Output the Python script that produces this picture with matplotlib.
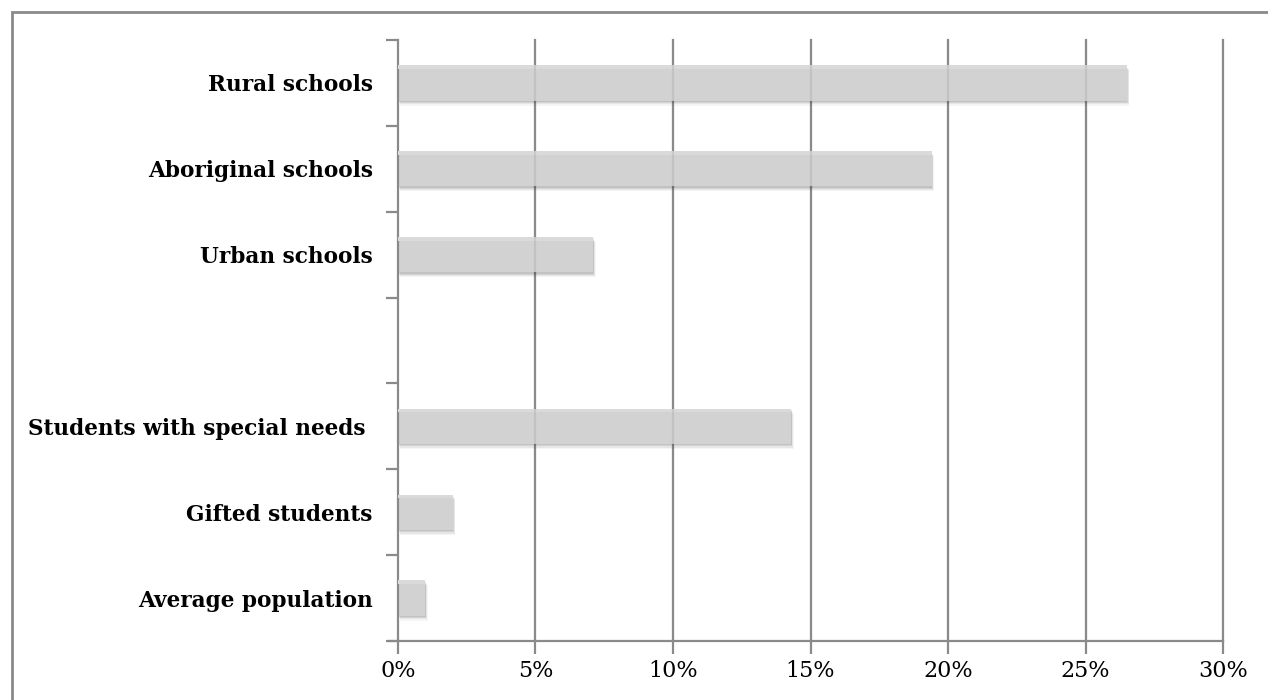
import matplotlib.pyplot as plt
import matplotlib.patheffects as pe
from matplotlib.patches import Rectangle
from matplotlib.ticker import FuncFormatter

# Share of students, bottom to top (empty row separates the two groups)
kategorien = [
    "Average population",
    "Gifted students",
    "Students with special needs ",
    "",
    "Urban schools",
    "Aboriginal schools",
    "Rural schools",
]
anteile = [1.0, 2.0, 14.3, 0.0, 7.1, 19.4, 26.5]
x_ticks = [0, 5, 10, 15, 20, 25, 30]

grau = "#8a8a8a"
balken_farbe = "#d2d2d2"
schrift = ["DejaVu Serif"]

fig = plt.figure(figsize=(12.68, 7.0), dpi=100)
fig.patch.set_facecolor("white")
ax = fig.add_axes([0.3137, 0.0843, 0.6510, 0.8586])

# vertical grid; a faint copy on top shows through the bars
for x in x_ticks[1:]:
    ax.axvline(x, color=grau, linewidth=1.6, zorder=1, clip_on=False)
    ax.axvline(x, color=grau, linewidth=1.6, zorder=5, alpha=0.22)

pos = list(range(len(kategorien)))
schatten = [
    pe.SimplePatchShadow(offset=(1.8, -3.6), shadow_rgbFace="#000000", alpha=0.04),
    pe.SimplePatchShadow(offset=(1.3, -2.7), shadow_rgbFace="#000000", alpha=0.06),
    pe.SimplePatchShadow(offset=(0.8, -1.8), shadow_rgbFace="#000000", alpha=0.08),
    pe.SimplePatchShadow(offset=(0.4, -1.0), shadow_rgbFace="#000000", alpha=0.08),
    pe.Normal(),
]
bars = ax.barh(pos, anteile, height=0.41, color=balken_farbe, zorder=2)
for b, w in zip(bars, anteile):
    if w > 0:
        b.set_path_effects(schatten)
        # lighter strip along the top edge
        ax.add_patch(Rectangle((0, b.get_y() + b.get_height() * 0.9), w,
                               b.get_height() * 0.1, facecolor="#dadada",
                               edgecolor="none", zorder=3))

ax.set_xlim(0, 30)
ax.set_ylim(-0.5, len(kategorien) - 0.5)

ax.set_xticks(x_ticks)
ax.xaxis.set_major_formatter(FuncFormatter(lambda v, _: f"{v:.0f}%"))
ax.tick_params(axis="x", length=9, width=1.6, color=grau, pad=5,
               labelsize=16)

# tick marks on category boundaries, labels at category centres
ax.set_yticks([p - 0.5 for p in pos] + [pos[-1] + 0.5])
ax.set_yticklabels([])
ax.tick_params(axis="y", which="major", length=9, width=1.6, color=grau)
ax.set_yticks(pos, minor=True)
ax.set_yticklabels(kategorien, minor=True, fontweight="bold", fontsize=15.6)
ax.tick_params(axis="y", which="minor", length=0, pad=18)

for t in ax.get_xticklabels() + ax.get_yticklabels(minor=True):
    t.set_family(schrift)

for s in ["top", "right"]:
    ax.spines[s].set_visible(False)
for s in ["left", "bottom"]:
    ax.spines[s].set_color(grau)
    ax.spines[s].set_linewidth(1.6)
ax.spines["bottom"].set_bounds(-0.33, 30)
ax.spines["bottom"].set_zorder(4)

# outer frame around the chart area
fig.patches.append(Rectangle((12 / 1268, -0.1), 1.1, 1 - 11.5 / 700 + 0.1,
                             transform=fig.transFigure, fill=False,
                             edgecolor=grau, linewidth=2))

fig.savefig("out.png", dpi=100)
